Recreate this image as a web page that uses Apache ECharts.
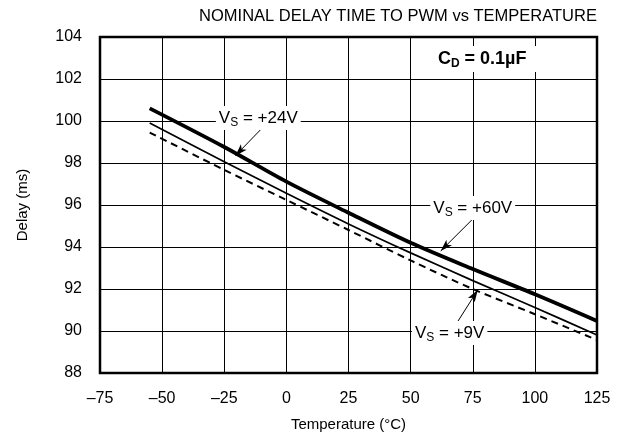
<!DOCTYPE html>
<html>
<head>
<meta charset="utf-8">
<script src="https://cdn.jsdelivr.net/npm/echarts@6/dist/echarts.min.js"></script>
<style>html,body{margin:0;padding:0;background:#fff;}#c{width:626px;height:444px;}</style>
</head>
<body>
<div id="c"></div>
<script>
var temps = [-55, -25, 0, 25, 50, 75, 100, 125];
var vs60 = [100.6, 98.76, 97.11, 95.63, 94.2, 92.95, 91.75, 90.48];
var vs24 = [99.9, 98.06, 96.56, 95.1, 93.72, 92.4, 91.12, 89.81];
var vs9 = [99.45, 97.67, 96.24, 94.81, 93.36, 92.0, 90.8, 89.57];
var xTicks = [-75, -50, -25, 0, 25, 50, 75, 100, 125];
var yTicks = [88, 90, 92, 94, 96, 98, 100, 102, 104];

function pairs(ys) { return temps.map(function (t, i) { return [t, ys[i]]; }); }
var FONT = 'Liberation Sans, Arial, sans-serif';
var rich = {
  v: { fontSize: 17, fontFamily: FONT, color: '#000' },
  s: { fontSize: 12, fontFamily: FONT, color: '#000', padding: [10, 0, 0, 0] },
  b: { fontSize: 18, fontFamily: FONT, color: '#000', fontWeight: 'bold' },
  bs: { fontSize: 12, fontFamily: FONT, color: '#000', fontWeight: 'bold', padding: [10, 0, 0, 0] }
};
function lbl(coord, text, pad) {
  return {
    coord: coord, symbol: 'rect', symbolSize: 1,
    itemStyle: { color: 'rgba(0,0,0,0)' },
    label: { show: true, position: 'inside', formatter: text, rich: rich,
      backgroundColor: '#fff', padding: pad || [1, 3, 1, 3] }
  };
}
var chart = echarts.init(document.getElementById('c'));
chart.setOption({
  animation: false,
  title: { text: 'NOMINAL DELAY TIME TO PWM vs TEMPERATURE', left: 393, top: 3, textAlign: 'center',
    textStyle: { fontSize: 16.5, fontWeight: 'normal', fontFamily: FONT, color: '#000' } },
  grid: { left: 100, right: 29, top: 37, bottom: 71, show: true, borderColor: '#000', borderWidth: 2.5 },
  xAxis: {
    type: 'value', min: -75, max: 125, interval: 25,
    name: 'Temperature (°C)', nameLocation: 'middle', nameGap: 44,
    nameTextStyle: { fontSize: 15, fontFamily: FONT, color: '#000' },
    axisLine: { show: false }, axisTick: { show: false },
    axisLabel: { fontSize: 16, fontFamily: FONT, color: '#000', margin: 18,
      formatter: function (v) { return xTicks.indexOf(v) >= 0 ? String(v).replace('-', '\u2013') : ''; } },
    splitLine: { show: true, lineStyle: { color: '#000', width: 1 } }
  },
  yAxis: {
    type: 'value', min: 88, max: 104, interval: 2,
    name: 'Delay (ms)', nameLocation: 'middle', nameGap: 70,
    nameTextStyle: { fontSize: 15, fontFamily: FONT, color: '#000' },
    axisLine: { show: false }, axisTick: { show: false },
    axisLabel: { fontSize: 16, fontFamily: FONT, color: '#000', margin: 18,
      formatter: function (v) { return yTicks.indexOf(v) >= 0 ? String(v) : ''; } },
    splitLine: { show: true, lineStyle: { color: '#000', width: 1 } }
  },
  series: [
    { name: 'VS = +60V', type: 'line', data: pairs(vs60), showSymbol: false, smooth: 0.3,
      lineStyle: { color: '#000', width: 3.8 },
      markLine: {
        silent: true, symbol: ['none', 'arrow'], symbolSize: [6, 12],
        label: { show: false },
        lineStyle: { color: '#000', width: 1, type: 'solid' },
        data: [
          [{ coord: [-9.7, 99.67] }, { coord: [-20.5, 98.35] }],
          [{ coord: [75.4, 95.38] }, { coord: [62.1, 93.81] }],
          [{ coord: [68.1, 90.29] }, { coord: [77, 91.95] }]
        ]
      },
      markPoint: {
        silent: true,
        data: [
          lbl([-11.3, 100.14], '{v|V}{s|S}{v| = +24V}'),
          lbl([75, 95.86], '{v|V}{s|S}{v| = +60V}'),
          lbl([65.7, 89.9], '{v|V}{s|S}{v| = +9V}'),
          lbl([78.8, 102.95], '{b|C}{bs|D}{b| = 0.1µF}', [2, 10, 2, 10])
        ]
      }
    },
    { name: 'VS = +24V', type: 'line', data: pairs(vs24), showSymbol: false, smooth: 0.3,
      lineStyle: { color: '#000', width: 1.7 } },
    { name: 'VS = +9V', type: 'line', data: pairs(vs9), showSymbol: false, smooth: 0.3,
      lineStyle: { color: '#000', width: 2, type: [7, 5] } }
  ]
});
</script>
</body>
</html>
